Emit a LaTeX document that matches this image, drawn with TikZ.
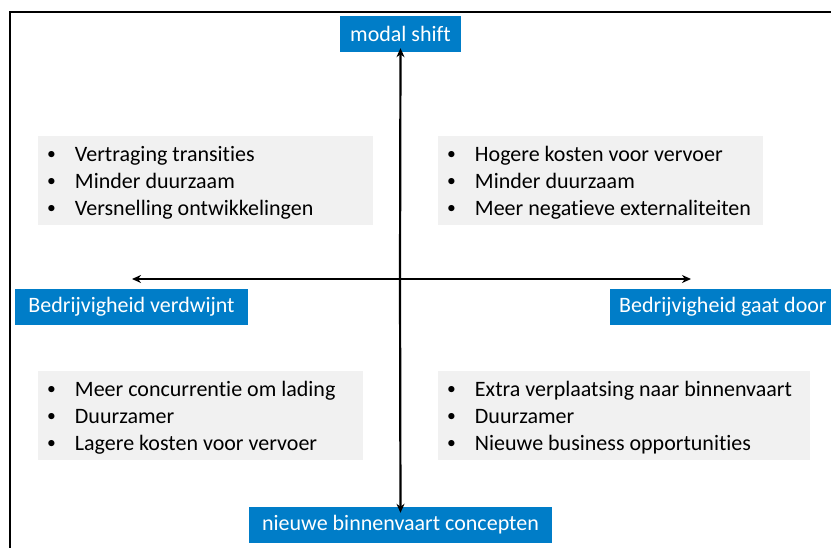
\documentclass[tikz,border=0pt]{standalone}
\usepackage{fontspec}
\setmainfont{Carlito}[Ligatures=NoCommon]
\usetikzlibrary{arrows.meta}
\definecolor{hdrblue}{RGB}{0,125,200}
\definecolor{boxgray}{RGB}{241,241,241}
\tikzset{
  hdr/.style={fill=hdrblue, text=white, font=\fontsize{22}{24}\selectfont, minimum height=36pt, inner xsep=9pt, inner ysep=0pt},
  graybox/.style={fill=boxgray, anchor=north west, inner sep=0pt},
  listtext/.style={anchor=west, inner sep=0pt, font=\fontsize{22}{27}\selectfont, align=left},
  axis/.style={line width=2.2pt, -{Stealth[length=9pt,width=8pt]}},
  frameline/.style={line width=1.6pt}
}
\newcommand{\smallbul}{\raisebox{1.5pt}{\scalebox{0.8}{\textbullet}}}
\newcommand{\bulletlist}[3]{%
  \begin{tabular}{@{}l@{\hspace{19pt}}l@{}}
  \smallbul & #1\\ \smallbul & #2\\ \smallbul & #3
  \end{tabular}}
\begin{document}
\begin{tikzpicture}[x=1pt,y=-1pt]
\useasboundingbox (0,0) rectangle (831,548);
\clip (0,0) rectangle (831,548);
\fill[white] (0,0) rectangle (831,548);
% frame
\draw[frameline] (10,560) -- (10,12) -- (840,12);
% gray boxes
\node[graybox, minimum width=335pt, minimum height=89pt] (tl) at (38,136) {};
\node[graybox, minimum width=325pt, minimum height=89pt] (tr) at (438,136) {};
\node[graybox, minimum width=325pt, minimum height=89pt] (bl) at (38,371) {};
\node[graybox, minimum width=372pt, minimum height=89pt] (br) at (438,371) {};
\node[listtext] (tlt) at ([xshift=9pt,yshift=-2pt]tl.west) {\bulletlist{Vertraging transities}{Minder duurzaam}{Versnelling ontwikkelingen}};
\node[listtext] (trt) at ([xshift=9pt,yshift=-2pt]tr.west) {\bulletlist{Hogere kosten voor vervoer}{Minder duurzaam}{Meer negatieve externaliteiten}};
\node[listtext] (blt) at ([xshift=9pt,yshift=-2pt]bl.west) {\bulletlist{Meer concurrentie om lading}{Duurzamer}{Lagere kosten voor vervoer}};
\node[listtext] (brt) at ([xshift=9pt,yshift=-2pt]br.west) {\bulletlist{Extra verplaatsing naar binnenvaart}{Duurzamer}{Nieuwe business opportunities}};
% header boxes
\node[hdr, minimum width=121pt] (top) at (400.5,34) {modal shift};
\node[hdr, minimum width=233pt] (left) at (131.5,307) {Bedrijvigheid verdwijnt};
\node[hdr, anchor=west] (right) at (610,307) {Bedrijvigheid gaat door\hspace{20pt}};
\node[hdr, minimum width=303pt] (bottom) at (400.5,525) {nieuwe binnenvaart concepten};
% axes
\coordinate (c) at (400,279);
\coordinate (lt) at (132,279);
\coordinate (rt) at (691,279);
\draw[axis] (c) -- ([yshift=4pt]top.south);
\draw[axis] (c) -- ([yshift=-6pt]bottom.north);
\draw[axis] (c) -- (lt);
\draw[axis] (c) -- (rt);
\end{tikzpicture}
\end{document}
